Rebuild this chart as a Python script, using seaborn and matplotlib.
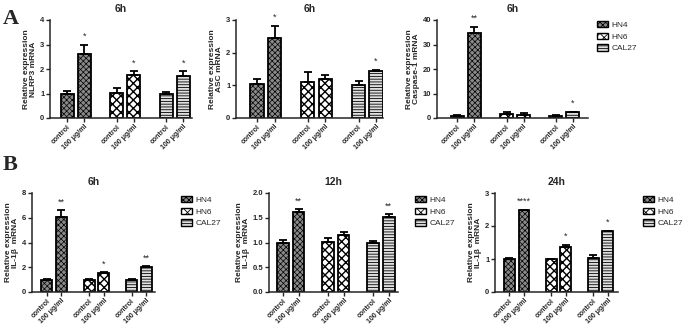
import numpy as np
import pandas as pd
import matplotlib
matplotlib.use("Agg")
import matplotlib.pyplot as plt
import matplotlib.patches as mpatches
import seaborn as sns

sns.set_style("ticks")
plt.rcParams['font.family'] = ['Liberation Sans', 'DejaVu Sans']
plt.rcParams['hatch.linewidth'] = 0.6

# ---------------- data ----------------
cell_lines = ["HN4", "HN4", "HN6", "HN6", "CAL27", "CAL27"]
tick_labels = ["control", "100 μg/ml"] * 3
positions = [0, 1, 2.9, 3.9, 5.8, 6.8]

nlrp3_6h = [1.0, 2.6, 1.03, 1.75, 1.0, 1.7]
nlrp3_6h_err = [0.1, 0.38, 0.18, 0.15, 0.08, 0.2]
nlrp3_6h_sig = ["", "*", "", "*", "", "*"]

asc_6h = [1.03, 2.45, 1.1, 1.2, 1.02, 1.45]
asc_6h_err = [0.15, 0.38, 0.3, 0.13, 0.1, 0.03]
asc_6h_sig = ["", "*", "", "", "", "*"]

casp1_6h = [1.0, 34.5, 1.7, 1.2, 0.9, 2.3]
casp1_6h_err = [0.3, 2.8, 0.9, 0.7, 0.3, 0.3]
casp1_6h_sig = ["", "**", "", "", "", "*"]

il1b_6h = [1.0, 6.1, 1.0, 1.5, 1.0, 2.05]
il1b_6h_err = [0.05, 0.5, 0.03, 0.1, 0.02, 0.03]
il1b_6h_sig = ["", "**", "", "*", "", "**"]

il1b_12h = [1.0, 1.62, 1.01, 1.15, 1.0, 1.52]
il1b_12h_err = [0.05, 0.05, 0.08, 0.07, 0.03, 0.05]
il1b_12h_sig = ["", "**", "", "", "", "**"]

il1b_24h = [1.0, 2.47, 1.0, 1.37, 1.02, 1.85]
il1b_24h_err = [0.03, 0.03, 0.01, 0.06, 0.1, 0.01]
il1b_24h_sig = ["", "****", "", "*", "", "*"]

# ---------------- styles ----------------
face = {"HN4": "#8a8a8a", "HN6": "#ffffff", "CAL27": "#e0e0e0"}
hatch = {"HN4": "xxxxxx", "HN6": "xxxx", "CAL27": "------"}
hatch_lw = {"HN4": 0.5, "HN6": 1.0, "CAL27": 0.6}

fig = plt.figure(figsize=(6.85, 3.25), dpi=100)
W, H = 685, 325

def rect(l, r, t, b):
    return [l / W, 1 - b / H, (r - l) / W, (b - t) / H]

def style_patch(p, key):
    p.set_hatch(hatch[key])
    if hasattr(p, "set_hatch_linewidth"):
        p.set_hatch_linewidth(hatch_lw[key])

def panel(rc, xlim, vals, errs, sig, ylim, yticks, ylabel, title, legend_xy=None, yfmt=None):
    ax = fig.add_axes(rc)
    df = pd.DataFrame({"pos": positions, "value": vals, "line": cell_lines})
    sns.barplot(data=df, x="pos", y="value", hue="line", native_scale=True,
                dodge=False, palette=face, edgecolor="black", linewidth=1.3,
                errorbar=None, width=0.75, legend=False, ax=ax)
    for p in ax.patches:
        c = p.get_x() + p.get_width() / 2
        i = int(np.argmin([abs(c - q) for q in positions]))
        style_patch(p, cell_lines[i])
    ax.errorbar(positions, vals, yerr=[np.zeros(len(vals)), errs], fmt="none",
                ecolor="black", elinewidth=1.3, capsize=3, capthick=1.3, zorder=1)
    span = ylim[1] - ylim[0]
    for x, v, e, s in zip(positions, vals, errs, sig):
        if s:
            ax.text(x, v + e + span * 0.04, s, ha="center", va="bottom", fontsize=6.5)
    ax.set_xlim(*xlim)
    ax.set_ylim(*ylim)
    ax.set_yticks(yticks)
    if yfmt:
        ax.set_yticklabels([yfmt.format(t) for t in yticks])
    ax.set_xticks(positions)
    ax.set_xticklabels(tick_labels, rotation=45, ha="right", rotation_mode="anchor",
                       fontsize=5, fontweight="bold")
    ax.tick_params(axis="y", labelsize=5.5, width=1.0, length=3, pad=1)
    ax.tick_params(axis="x", width=1.0, length=3, pad=1)
    for lab in ax.get_yticklabels():
        lab.set_fontweight("bold")
    ax.set_xlabel("")
    ax.set_ylabel(ylabel, fontsize=6, fontweight="bold", labelpad=2, linespacing=1.1)
    ax.set_title(title, fontsize=7.5, fontweight="bold", pad=6)
    sns.despine(ax=ax)
    for sp in ("left", "bottom"):
        ax.spines[sp].set_linewidth(1.1)
    if legend_xy is not None:
        handles = []
        for k in ["HN4", "HN6", "CAL27"]:
            h = mpatches.Patch(facecolor=face[k], edgecolor="black", linewidth=1.0, label=k)
            style_patch(h, k)
            handles.append(h)
        fig.legend(handles=handles, loc="upper left",
                   bbox_to_anchor=(legend_xy[0] / W, 1 - legend_xy[1] / H),
                   frameon=False, fontsize=6, handlelength=1.3, handleheight=0.75,
                   labelspacing=0.45, handletextpad=0.4, borderpad=0, borderaxespad=0)
    return ax

panel(rect(50, 192, 20, 118), (-1.0, 7.3), nlrp3_6h, nlrp3_6h_err, nlrp3_6h_sig,
      (0, 4), [0, 1, 2, 3, 4], "Relative expression\nNLRP3 mRNA", "6h")
panel(rect(236, 383, 20, 118), (-1.2, 7.2), asc_6h, asc_6h_err, asc_6h_sig,
      (0, 3), [0, 1, 2, 3], "Relative expression\nASC mRNA", "6h")
panel(rect(437, 588, 20, 118), (-1.2, 7.7), casp1_6h, casp1_6h_err, casp1_6h_sig,
      (0, 40), [0, 10, 20, 30, 40], "Relative expression\nCaspase-1 mRNA", "6h",
      legend_xy=(597, 21))
panel(rect(32, 155, 193, 292), (-1.0, 7.4), il1b_6h, il1b_6h_err, il1b_6h_sig,
      (0, 8), [0, 2, 4, 6, 8], "Relative expression\nIL-1β  mRNA", "6h",
      legend_xy=(181, 196))
panel(rect(269, 398, 193, 292), (-0.9, 7.4), il1b_12h, il1b_12h_err, il1b_12h_sig,
      (0, 2), [0, 0.5, 1.0, 1.5, 2.0], "Relative expression\nIL-1β  mRNA", "12h",
      legend_xy=(415, 196), yfmt="{:.1f}")
panel(rect(495, 618, 193, 292), (-1.0, 7.5), il1b_24h, il1b_24h_err, il1b_24h_sig,
      (0, 3), [0, 1, 2, 3], "Relative expression\nIL-1β  mRNA", "24h",
      legend_xy=(643, 196))

fig.text(3 / W, 1 - 24 / H, "A", fontsize=16, fontweight="bold",
         family=["Liberation Serif", "DejaVu Serif"])
fig.text(3 / W, 1 - 170 / H, "B", fontsize=16, fontweight="bold",
         family=["Liberation Serif", "DejaVu Serif"])

fig.savefig("out.png", dpi=100)
